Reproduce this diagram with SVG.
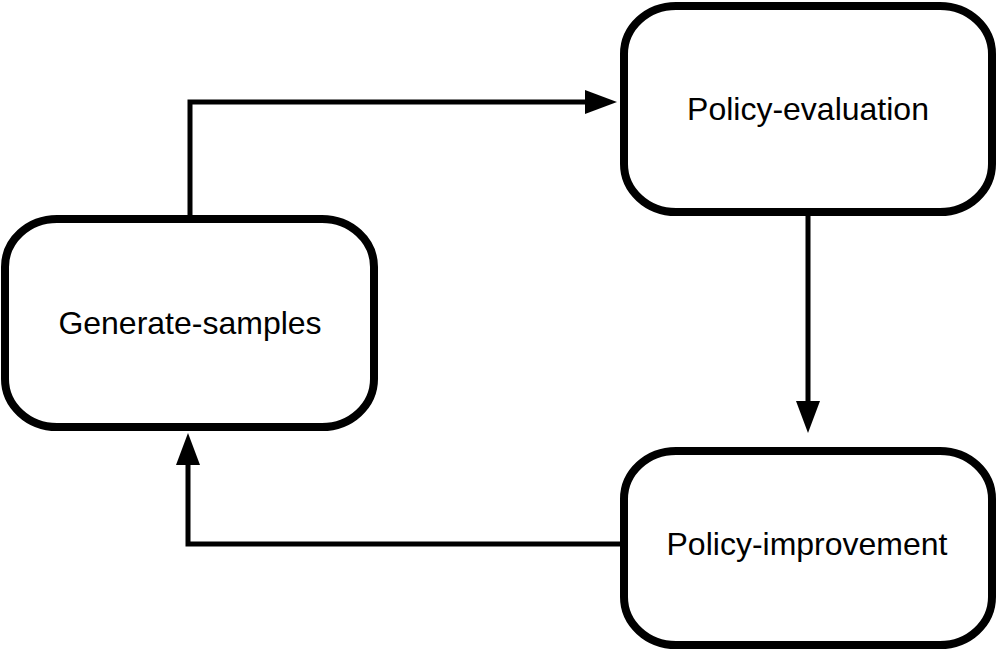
<svg xmlns="http://www.w3.org/2000/svg" width="998" height="652" viewBox="0 0 998 652">
<style>
.box{fill:#fff;stroke:#000;stroke-width:8}
.lbl{font-family:"Liberation Sans",Arial,sans-serif;font-size:32px;fill:#000;text-anchor:middle}
.conn{fill:none;stroke:#000;stroke-width:5;stroke-linejoin:miter}
.head{fill:#000}
</style>
<rect width="998" height="652" fill="#fff"/>
<g id="connectors">
<path class="conn" d="M190,219 L190,102 L590,102"/>
<path class="head" d="M585,90 L617,102 L585,114 z"/>
<path class="conn" d="M808,212 L808,405"/>
<path class="head" d="M796,401 L808,433 L820,401 z"/>
<path class="conn" d="M624,544 L188,544 L188,460"/>
<path class="head" d="M176,465 L188,433 L200,465 z"/>
</g>
<g id="generate-samples">
<rect class="box" x="5" y="219" width="369" height="208" rx="52" ry="48"/>
<text class="lbl" x="190" y="334">Generate-samples</text>
</g>
<g id="policy-evaluation">
<rect class="box" x="624" y="6" width="368" height="206" rx="52" ry="48"/>
<text class="lbl" x="808" y="120">Policy-evaluation</text>
</g>
<g id="policy-improvement">
<rect class="box" x="624" y="451" width="368" height="194" rx="52" ry="48"/>
<text class="lbl" x="807" y="555">Policy-improvement</text>
</g>
</svg>
